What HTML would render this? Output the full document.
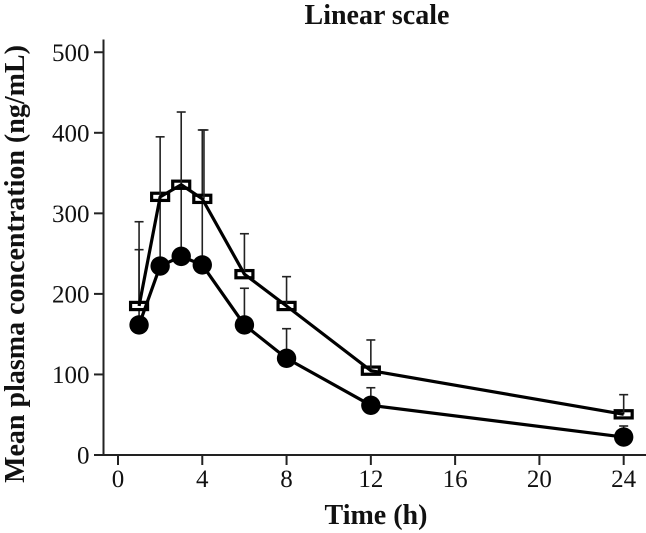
<!DOCTYPE html>
<html>
<head>
<meta charset="utf-8">
<style>
html,body{margin:0;padding:0;background:#fff;}
svg{display:block;font-family:"Liberation Serif",serif;}
</style>
</head>
<body>
<svg id="chart" width="646" height="533" viewBox="0 0 646 533" xmlns="http://www.w3.org/2000/svg">
<text x="377" y="24" font-size="28" font-weight="bold" text-anchor="middle" fill="#111">Linear scale</text>
<text transform="translate(24,264) rotate(-90)" font-size="28" font-weight="bold" text-anchor="middle" fill="#111">Mean plasma concentration (ng/mL)</text>
<text x="376" y="524" font-size="28" font-weight="bold" text-anchor="middle" fill="#111">Time (h)</text>
<g id="axes"></g>
<g id="marks"></g>
</svg>
<script>
const hours = [1, 2, 3, 4, 6, 8, 12, 24];
const squareValues = [185, 320.5, 335.5, 318, 224.5, 185, 104.7, 50.5];
const squareUpper = [289.6, 395, 425.8, 403.5, 274.7, 221.4, 142.8, 74.9];
const squareErrorHours = [1, 2, 3, 4.08, 6, 8, 12, 24];
const circleValues = [161.5, 234.6, 246.6, 236, 161.5, 120, 61.7, 22.3];
const circleUpper = [254.9, 320, 335, 403.5, 207, 156.8, 83.5, 36];
const xTicks = [0, 4, 8, 12, 16, 20, 24];
const yTicks = [0, 100, 200, 300, 400, 500];

const NS = 'http://www.w3.org/2000/svg';
const sx = h => 118 + h * 21.07;
const sy = v => 455 - v * 0.8055;
function make(parent, tag, attrs, text) {
  const el = document.createElementNS(NS, tag);
  for (const k in attrs) el.setAttribute(k, attrs[k]);
  if (text !== undefined) el.textContent = text;
  parent.appendChild(el);
  return el;
}
const axes = document.getElementById('axes');
const marks = document.getElementById('marks');

const yLine = make(axes, 'line', {x1: 103.5, x2: 103.5, y1: 39.5, y2: 456, stroke: '#222', 'stroke-width': 2});


const xLine = make(axes, 'line', {x1: 103, x2: 646, y1: 455, y2: 455, stroke: '#222', 'stroke-width': 2});



xTicks.forEach(t => {
  const tick = make(axes, 'line', {x1: sx(t), x2: sx(t), y1: 455, y2: 465, stroke: '#222', 'stroke-width': 2});
  
  
  const label = make(axes, 'text', {x: sx(t), y: 487, 'font-size': 25, 'text-anchor': 'middle', fill: '#111'}, t);
  
  
});
yTicks.forEach(t => {
  const tick = make(axes, 'line', {x1: 94, x2: 103.5, y1: sy(t), y2: sy(t), stroke: '#222', 'stroke-width': 2});
  
  
  const label = make(axes, 'text', {x: 89.5, y: sy(t) + 8.5, 'font-size': 25, 'text-anchor': 'end', fill: '#111'}, t);
  
  
});

function errorBar(h, value, upper, name) {
  const g = make(marks, 'g', {stroke: '#222', 'stroke-width': 1.6});
  
  
  make(g, 'line', {x1: sx(h), x2: sx(h), y1: sy(value), y2: sy(upper)});
  make(g, 'line', {x1: sx(h) - 4.5, x2: sx(h) + 4.5, y1: sy(upper), y2: sy(upper)});
}
function polyline(values, name) {
  const pts = hours.map((h, i) => sx(h) + ',' + sy(values[i])).join(' ');
  const line = make(marks, 'polyline', {points: pts, fill: 'none', stroke: '#000', 'stroke-width': 3.2, 'stroke-linejoin': 'round'});
  
  
}

hours.forEach((h, i) => errorBar(h, circleValues[i], circleUpper[i], 'circle-error-bar'));
hours.forEach((h, i) => {
  const sq = make(marks, 'rect', {x: sx(h) - 8.5, y: sy(squareValues[i]) - 3.6, width: 17, height: 7.2, fill: '#fff', stroke: '#000', 'stroke-width': 3.2});
  
  
});
hours.forEach((h, i) => errorBar(squareErrorHours[i], squareValues[i], squareUpper[i], 'square-error-bar'));
polyline(squareValues, 'square-series-line');
polyline(circleValues, 'circle-series-line');
hours.forEach((h, i) => {
  const c = make(marks, 'circle', {cx: sx(h), cy: sy(circleValues[i]), r: 9.7, fill: '#000'});
  
  
});
</script>
</body>
</html>
